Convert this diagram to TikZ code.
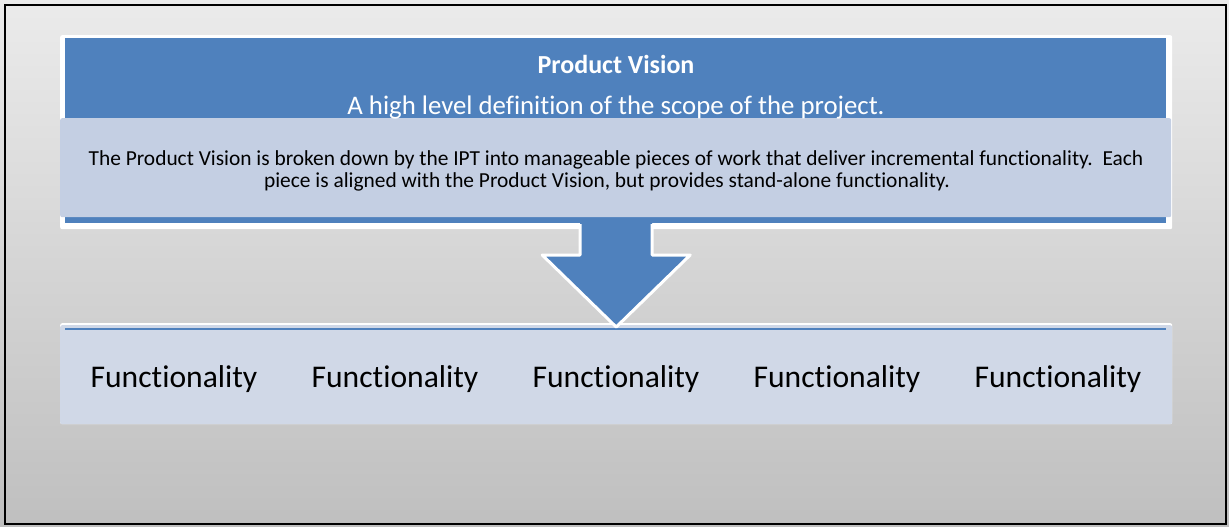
\documentclass[tikz,border=0pt]{standalone}
\usepackage{fontspec}
\setmainfont{Carlito}[Ligatures={NoCommon}]
\usepackage{tikz}
\usetikzlibrary{positioning}
\definecolor{visionblue}{HTML}{4F81BD}
\definecolor{piecefill}{HTML}{C4CFE3}
\definecolor{funcfill}{HTML}{D0D8E7}
\definecolor{bgtop}{HTML}{EBEBEB}
\definecolor{bgbottom}{HTML}{BFBFBF}
\tikzset{
  panel/.style={inner sep=0pt, anchor=north west, rounded corners=2pt},
  functext/.style={anchor=base, inner sep=0.75pt, font=\fontsize{31.6}{37}\selectfont},
}

\begin{document}
\begin{tikzpicture}[x=1pt,y=1pt,yscale=-1,xscale=1]
\useasboundingbox (0,0) rectangle (1229,527);
\shade [top color=bgtop, bottom color=bgbottom] (0,0) rectangle (1229,527);
\draw [line width=2pt] (5,5) rectangle (1226,524);
%Vision box
\node (visionframe) [panel, fill=white, minimum width=1112pt, minimum height=194pt] at (60,35) {};
\node (vision) [panel, rounded corners=0pt, fill=visionblue, minimum width=1101pt, minimum height=185pt] at (65,38) {};
\node (pieces) [panel, fill=piecefill, minimum width=1111pt, minimum height=99pt] at (60,118) {};
%Functionality box
\node (funcs) [panel, fill=white, minimum width=1112pt, minimum height=101pt] at (60,323) {};
\node (funcsfill) [panel, fill=funcfill, minimum width=1112pt, minimum height=99pt] at (60,325) {};
\draw [visionblue, line width=2pt] (65,329) -- (1166,329);
%Arrow
\path (funcs.north) ++(0,4) coordinate (tip);
\fill [visionblue] (tip) -- ++(-74,-72) -- ++(38,0) -- ++(0,-34) -- ++(72,0) -- ++(0,34) -- ++(38,0) -- cycle;
\draw [white, line width=3pt, line join=round] (tip) ++(-36,-103) -- ++(0,31) -- ++(-38,0) -- (tip) -- ++(74,-72) -- ++(-38,0) -- ++(0,-31);
%Text
\draw (616,74) node (title) [anchor=base][inner sep=0.75pt] [text=white, font=\bfseries\fontsize{26}{31}\selectfont] {Product Vision};
\draw (616,114) node (scope) [anchor=base][inner sep=0.75pt] [text=white, font=\fontsize{26.8}{32}\selectfont] {A high level definition of the scope of the project.};
\draw (616,187) node (piecestext) [anchor=base][inner sep=0.75pt] [align=center, font=\fontsize{21.4}{22}\selectfont] {The Product Vision is broken down by the IPT into manageable pieces of work that deliver incremental functionality.\ \ Each\\piece is aligned with the Product Vision, but provides stand-alone functionality.\hspace*{18pt}};
\foreach \i/\x in {1/174,2/395,3/616,4/837,5/1058}
  \draw (\x,387) node (func\i) [functext] {Functionality};
\end{tikzpicture}
\end{document}
